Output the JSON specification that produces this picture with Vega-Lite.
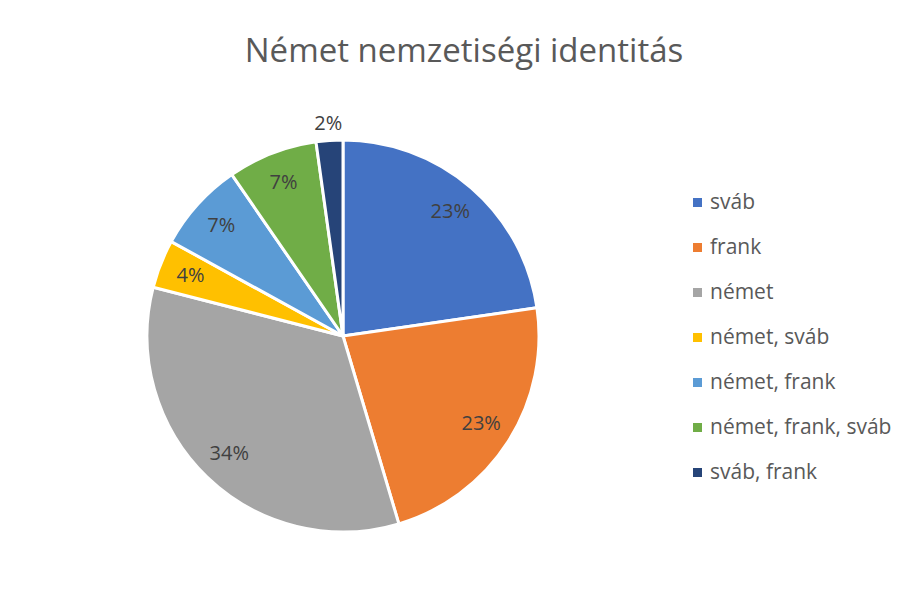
{
  "$schema": "https://vega.github.io/schema/vega-lite/v6.json",
  "width": 392,
  "height": 392,
  "autosize": {"type": "none"},
  "padding": {"left": 147, "top": 140, "right": 367, "bottom": 58},
  "background": "white",
  "config": {"view": {"stroke": null}},
  "title": {
    "text": "Német nemzetiségi identitás",
    "font": "Open Sans",
    "fontSize": 33,
    "fontWeight": "normal",
    "color": "#595959",
    "anchor": "middle",
    "dx": 121,
    "offset": 45
  },
  "data": {
    "values": [
      {"kategoria": "sváb", "value": 22.7, "label": "23%", "order": 1},
      {"kategoria": "frank", "value": 22.7, "label": "23%", "order": 2},
      {"kategoria": "német", "value": 33.6, "label": "34%", "order": 3},
      {"kategoria": "német, sváb", "value": 4.0, "label": "4%", "order": 4},
      {"kategoria": "német, frank", "value": 7.4, "label": "7%", "order": 5},
      {"kategoria": "német, frank, sváb", "value": 7.4, "label": "7%", "order": 6},
      {"kategoria": "sváb, frank", "value": 2.2, "label": "2%", "order": 7}
    ]
  },
  "encoding": {
    "theta": {"field": "value", "type": "quantitative", "stack": true},
    "order": {"field": "order", "type": "quantitative"},
    "color": {
      "field": "kategoria",
      "type": "nominal",
      "scale": {
        "domain": ["sváb", "frank", "német", "német, sváb", "német, frank", "német, frank, sváb", "sváb, frank"],
        "range": ["#4472C4", "#ED7D31", "#A5A5A5", "#FFC000", "#5B9BD5", "#70AD47", "#264478"]
      },
      "legend": {
        "title": null,
        "orient": "none",
        "legendX": 540,
        "legendY": 52,
        "padding": 0,
        "symbolType": "square",
        "symbolSize": 81,
        "symbolStrokeWidth": 0,
        "labelFont": "Open Sans",
        "labelFontSize": 21,
        "labelColor": "#595959",
        "labelOffset": 2,
        "rowPadding": 23,
        "labelLimit": 300
      }
    }
  },
  "layer": [
    {
      "mark": {"type": "arc", "stroke": "white", "strokeWidth": 3}
    },
    {
      "mark": {"type": "text", "radius": 164, "font": "Open Sans", "fontSize": 20, "color": "#404040"},
      "encoding": {
        "text": {"condition": {"test": "datum.value >= 3", "field": "label"}, "value": ""},
        "color": {"value": "#404040"}
      }
    },
    {
      "mark": {"type": "text", "radius": 213, "font": "Open Sans", "fontSize": 20, "color": "#404040"},
      "encoding": {
        "text": {"condition": {"test": "datum.value < 3", "field": "label"}, "value": ""},
        "color": {"value": "#404040"}
      }
    }
  ]
}
